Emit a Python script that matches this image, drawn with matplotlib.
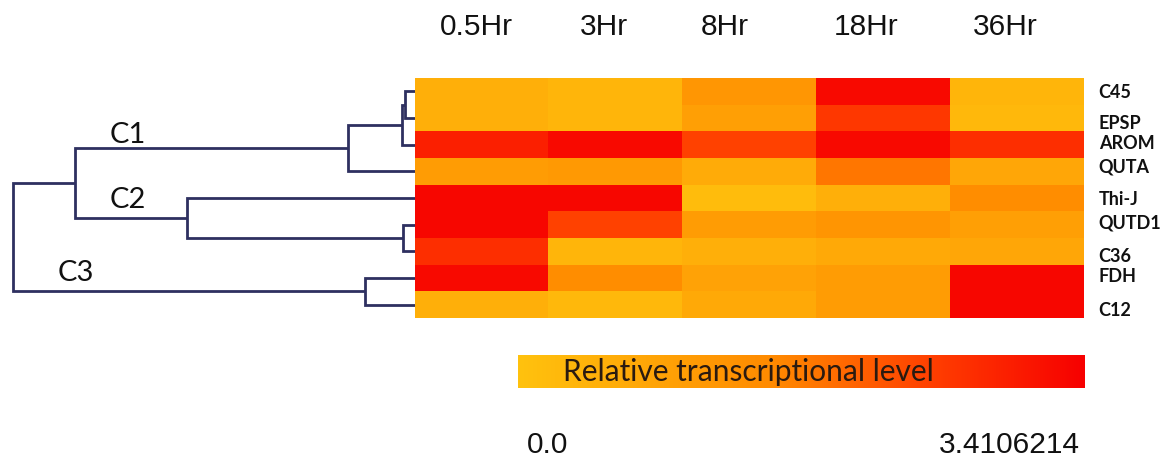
import numpy as np
import matplotlib
matplotlib.use("Agg")
import matplotlib.pyplot as plt
from matplotlib.colors import LinearSegmentedColormap

# ---- data ----
genes = ["C45", "EPSP", "AROM", "QUTA", "Thi-J", "QUTD1", "C36", "FDH", "C12"]
times = ["0.5Hr", "3Hr", "8Hr", "18Hr", "36Hr"]
vmin, vmax = 0.0, 3.4106214
frac = np.array([
    [0.15, 0.10, 0.35, 0.96, 0.10],   # C45
    [0.15, 0.10, 0.28, 0.76, 0.08],   # EPSP
    [0.86, 0.96, 0.72, 0.96, 0.80],   # AROM
    [0.30, 0.33, 0.18, 0.52, 0.22],   # QUTA
    [0.97, 0.97, 0.05, 0.15, 0.42],   # Thi-J
    [0.97, 0.72, 0.30, 0.36, 0.28],   # QUTD1
    [0.80, 0.10, 0.15, 0.20, 0.22],   # C36
    [0.96, 0.42, 0.25, 0.30, 0.97],   # FDH
    [0.15, 0.08, 0.20, 0.30, 0.97],   # C12
])
values = frac * vmax
# dendrogram merges: (left child, right child, height); leaves are 0..8
merges = [
    (0, 1, 0.025),
    (9, 2, 0.032),
    (10, 3, 0.167),
    (5, 6, 0.030),
    (4, 12, 0.567),
    (11, 13, 0.846),
    (7, 8, 0.124),
    (14, 15, 1.000),
]
cluster_labels = ["C1", "C2", "C3"]

# ---- layout ----
W, H = 1170, 459
fig = plt.figure(figsize=(W / 100, H / 100), dpi=100)

def rect(x0, y0, x1, y1):
    return [x0 / W, 1 - y1 / H, (x1 - x0) / W, (y1 - y0) / H]

cmap = LinearSegmentedColormap.from_list(
    "yor", [(0, "#FFC20E"), (0.45, "#FF8A00"), (0.75, "#FF3A00"), (1, "#F70000")])

hm_x0, hm_y0, hm_x1, hm_y1 = 415, 78, 1084, 318
ax = fig.add_axes(rect(hm_x0, hm_y0, hm_x1, hm_y1))
ax.imshow(values, cmap=cmap, vmin=vmin, vmax=vmax, aspect="auto",
          extent=(0, len(times), len(genes), 0), interpolation="nearest")
ax.set_xlim(0, len(times))
ax.set_ylim(len(genes), 0)
ax.set_xticks([])
ax.set_yticks([])
for s in ax.spines.values():
    s.set_visible(False)

# row labels
label_y = [0.525, 1.69, 2.44, 3.34, 4.57, 5.44, 6.71, 7.46, 8.7]
for g, yy in zip(genes, label_y):
    ax.text(len(times) + 0.11, yy, g, ha="left", va="center",
            fontsize=13, fontweight="bold", family="Lato", color="#111111")

# column labels (pixel centres in the reference layout)
col_px = [476, 604, 725, 866, 1005]
for t, xx in zip(times, col_px):
    fig.text(xx / W, 1 - 27 / H, t, ha="center", va="center", fontsize=21.5,
             family="Liberation Sans", color="#111111")

# ---- dendrogram ----
dax = fig.add_axes(rect(0, hm_y0, hm_x0, hm_y1))
n = len(genes)
pos = {i: i + 0.5 for i in range(n)}
hgt = {i: 0.0 for i in range(n)}
lc = "#2E3060"
for k, (a, b, h) in enumerate(merges):
    node = n + k
    ya, yb = pos[a], pos[b]
    dax.plot([hgt[a], h, h, hgt[b]], [ya, ya, yb, yb], color=lc, lw=2.0,
             solid_capstyle="butt", solid_joinstyle="miter")
    pos[node] = (ya + yb) / 2
    hgt[node] = h
dax.set_xlim(1.032, 0)
dax.set_ylim(n, 0)
dax.axis("off")

for lab, (xx, yy) in zip(cluster_labels, [(0.715, 2.14), (0.715, 4.57), (0.843, 7.31)]):
    dax.text(xx, yy, lab, ha="center", va="center", fontsize=21, family="Lato",
             color="#111111")

# ---- colour bar ----
cax = fig.add_axes(rect(518, 355, 1085, 388))
grad = np.linspace(vmin, vmax, 256)[None, :]
cax.imshow(grad, cmap=cmap, vmin=vmin, vmax=vmax, aspect="auto",
           extent=(vmin, vmax, 0, 1))
cax.set_xticks([])
cax.set_yticks([])
for s in cax.spines.values():
    s.set_visible(False)
cax.text((563 - 518) / (1085 - 518), 0.5, "Relative transcriptional level",
         transform=cax.transAxes, ha="left", va="center", fontsize=21.5,
         family="Lato", color="#2A1A10")

fig.text(527 / W, 1 - 445 / H, f"{vmin:.1f}", ha="left", va="center",
         fontsize=21.5, family="Liberation Sans", color="#111111")
fig.text(1080 / W, 1 - 445 / H, f"{vmax:.7f}", ha="right", va="center",
         fontsize=21.5, family="Liberation Sans", color="#111111")

fig.savefig("out.png", dpi=100, facecolor="white")
